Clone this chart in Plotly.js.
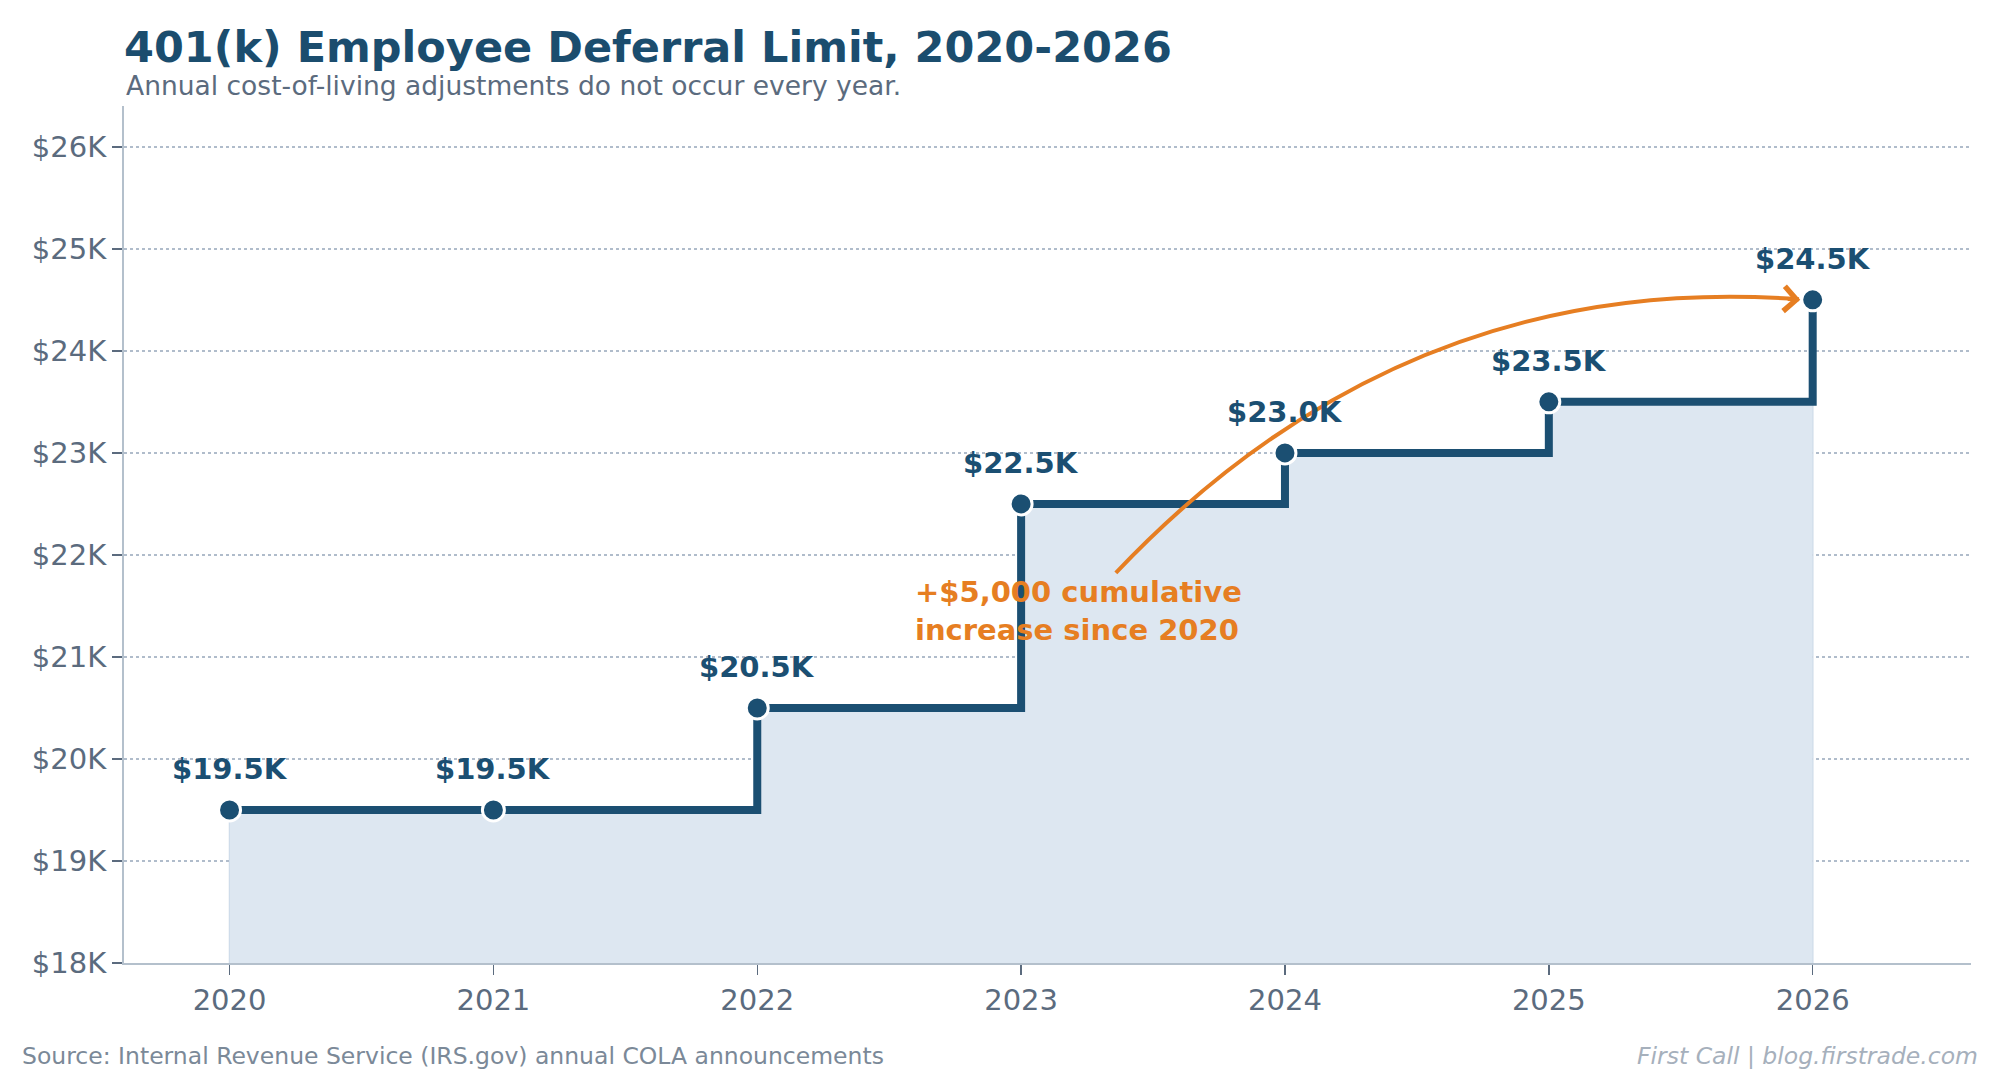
<!DOCTYPE html>
<html>
<head>
<meta charset="utf-8">
<script src="https://cdn.plot.ly/plotly-3.0.1.min.js"></script>
<style>
  body { margin: 0; background: #ffffff; }
  #chart { width: 2000px; height: 1080px; }
</style>
</head>
<body>
<div id="chart"></div>
<script>
// 401(k) deferral limit, step chart

// data
const years = [2020, 2021, 2022, 2023, 2024, 2025, 2026];
const limits = [19500, 19500, 20500, 22500, 23000, 23500, 24500];
const yTicks = [18000, 19000, 20000, 21000, 22000, 23000, 24000, 25000, 26000];
const yTickText = ['$18K', '$19K', '$20K', '$21K', '$22K', '$23K', '$24K', '$25K', '$26K'];

// colours
const navy = '#1b4f72';
const orange = '#e67e22';
const tickGrey = '#5b6b7e';
const spine = '#b4c0cc';

const font = 'DejaVu Sans';
const yMin = 18000;

// fill under the steps
let fillTrace = {
    x: years,
    y: limits,
    mode: 'lines',
    line: { shape: 'hv', width: 0, color: navy },
    fill: 'tozeroy',
    fillcolor: '#dde7f1',
    hoverinfo: 'skip',
    showlegend: false
};

let stepTrace = {
    x: years,
    y: limits,
    mode: 'lines',
    line: { shape: 'hv', width: 8, color: navy },
    hoverinfo: 'skip',
    showlegend: false
};

let pointTrace = {
    x: years,
    y: limits,
    mode: 'markers',
    marker: { size: 22, color: navy, line: { color: '#ffffff', width: 3 } },
    hoverinfo: 'skip',
    showlegend: false
};

// value labels above each point
let annotations = years.map((yr, i) => ({
    x: yr,
    y: limits[i],
    xref: 'x',
    yref: 'y',
    text: '$' + (limits[i] / 1000).toFixed(1) + 'K',
    showarrow: false,
    yanchor: 'bottom',
    yshift: 22,
    font: { family: font, size: 29, color: navy, weight: 'bold' }
}));

// callout text
annotations.push({
    x: 2022.59,
    y: 21450,
    xref: 'x',
    yref: 'y',
    xanchor: 'left',
    yanchor: 'middle',
    align: 'left',
    text: '+$5,000 cumulative<br>increase since 2020',
    showarrow: false,
    font: { family: font, size: 29, color: orange, weight: 'bold' }
});

// arrow head at the end of the curve
const last = years.length - 1;
annotations.push({
    x: years[last] - 0.047,
    y: limits[last],
    xref: 'x',
    yref: 'y',
    ax: -14,
    ay: -1,
    axref: 'pixel',
    ayref: 'pixel',
    text: '',
    showarrow: true,
    arrowhead: 4,
    arrowsize: 1.2,
    arrowwidth: 4,
    arrowcolor: orange
});

// subtitle and footers
annotations.push({
    x: 0, y: 1.024, xref: 'paper', yref: 'paper',
    xanchor: 'left', yanchor: 'middle',
    text: 'Annual cost-of-living adjustments do not occur every year.',
    showarrow: false,
    font: { family: font, size: 26.5, color: tickGrey }
});
annotations.push({
    x: -0.0563, y: -0.1085, xref: 'paper', yref: 'paper',
    xanchor: 'left', yanchor: 'middle',
    text: 'Source: Internal Revenue Service (IRS.gov) annual COLA announcements',
    showarrow: false,
    font: { family: font, size: 23.5, color: '#7b8998' }
});
annotations.push({
    x: 1.0049, y: -0.1085, xref: 'paper', yref: 'paper',
    xanchor: 'right', yanchor: 'middle',
    text: '<i>First Call | blog.firstrade.com</i>',
    showarrow: false,
    font: { family: font, size: 23.5, color: '#a6b0bc' }
});

// curved arrow body (quadratic curve in data space)
let arrowStart = [2023.359, 21824];
let arrowCtrl = [2024.448, 24794];
let arrowEnd = [years[last] - 0.052, limits[last] + 5];

let shapes = [
    {
        type: 'path',
        xref: 'x', yref: 'y',
        path: `M ${arrowStart[0]},${arrowStart[1]} Q ${arrowCtrl[0]},${arrowCtrl[1]} ${arrowEnd[0]},${arrowEnd[1]}`,
        line: { color: orange, width: 4 },
        layer: 'above'
    },
    // faint edges of the filled area
    {
        type: 'line', xref: 'x', yref: 'y',
        x0: years[0], x1: years[0], y0: yMin, y1: limits[0],
        line: { color: '#c3d3e3', width: 1.5 }, layer: 'below'
    },
    {
        type: 'line', xref: 'x', yref: 'y',
        x0: years[last], x1: years[last], y0: yMin, y1: limits[last],
        line: { color: '#c3d3e3', width: 1.5 }, layer: 'below'
    }
];

let layout = {
    width: 2000,
    height: 1080,
    margin: { l: 124, r: 29, t: 106, b: 117 },
    paper_bgcolor: '#ffffff',
    plot_bgcolor: '#ffffff',
    font: { family: font, color: tickGrey },
    showlegend: false,
    title: {
        text: '<b>401(k) Employee Deferral Limit, 2020-2026</b>',
        xref: 'paper',
        x: 0,
        xanchor: 'left',
        yref: 'container',
        y: 1 - 47 / 1080,
        yanchor: 'middle',
        font: { family: font, size: 43, color: '#1b4d6e' }
    },
    xaxis: {
        range: [2019.6, 2026.6],
        tickvals: years,
        ticktext: years.map(String),
        showgrid: false,
        zeroline: false,
        showline: true,
        linecolor: spine,
        linewidth: 2,
        ticks: 'outside',
        ticklen: 10,
        tickwidth: 1.5,
        tickcolor: tickGrey,
        tickfont: { family: font, size: 29, color: tickGrey }
    },
    yaxis: {
        range: [yMin, 26400],
        tickvals: yTicks,
        ticktext: yTickText,
        showgrid: true,
        gridcolor: '#b0bccb',
        gridwidth: 1.5,
        griddash: 'dot',
        zeroline: false,
        showline: true,
        linecolor: spine,
        linewidth: 2,
        ticks: 'outside',
        ticklen: 10,
        tickwidth: 2,
        tickcolor: tickGrey,
        tickfont: { family: font, size: 29, color: tickGrey }
    },
    annotations: annotations,
    shapes: shapes
};

Plotly.newPlot('chart', [fillTrace, stepTrace, pointTrace], layout, { staticPlot: true });
</script>
</body>
</html>
